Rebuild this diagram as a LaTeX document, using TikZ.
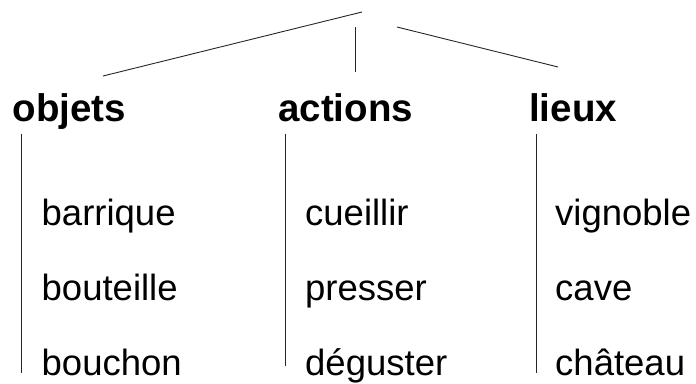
\documentclass[tikz,border=0pt]{standalone}
\usepackage{fontspec}
\setmainfont{Liberation Sans}
\begin{document}
\begin{tikzpicture}[x=1pt,y=-1pt,
  header/.style={anchor=base west,inner sep=0pt,font=\fontsize{38.5}{40}\selectfont\bfseries},
  item/.style={anchor=base west,inner sep=0pt,font=\fontsize{36.5}{40}\selectfont},
  branch/.style={line width=0.9pt,draw=black!85}]
\useasboundingbox (0,0) rectangle (696,383);

% category headings
\node[header] (objets)  at (12.5,121) {objets};
\node[header] (actions) at (278,121) {actions};
\node[header] (lieux)   at (529,121) {lieux};

% words of each category
\node[item] (barrique)  at (41.5,225) {barrique};
\node[item] (bouteille) at (41.5,300) {bouteille};
\node[item] (bouchon)   at (41.5,375) {bouchon};
\node[item] (cueillir)  at (305,225) {cueillir};
\node[item] (presser)   at (305,300) {presser};
\node[item] (deguster)  at (305,375) {déguster};
\node[item] (vignoble)  at (555,225) {vignoble};
\node[item] (cave)      at (555,300) {cave};
\node[item] (chateau)   at (555,375) {château};

% branches from the top of the tree
\coordinate (rootL) at (362,12);
\coordinate (rootM) at (355,27);
\coordinate (rootR) at (397,27);
\coordinate (topL) at (103,76);
\coordinate (topM) at (355,72);
\coordinate (topR) at (558,67);
\draw[branch] (rootL) -- (topL);
\draw[branch] (rootM) -- (topM);
\draw[branch] (rootR) -- (topR);

% vertical bars under the headings
\coordinate (barLa) at (21,134);  \coordinate (barLb) at (21,373);
\coordinate (barMa) at (285,134); \coordinate (barMb) at (285,366);
\coordinate (barRa) at (536,134); \coordinate (barRb) at (536,373);
\draw[branch] (barLa) -- (barLb);
\draw[branch] (barMa) -- (barMb);
\draw[branch] (barRa) -- (barRb);
\end{tikzpicture}
\end{document}
